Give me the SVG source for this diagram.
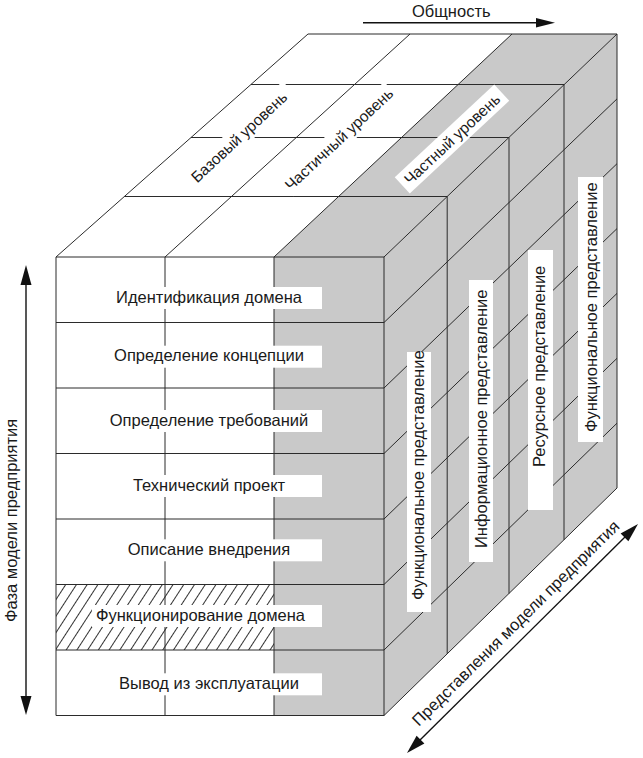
<svg xmlns="http://www.w3.org/2000/svg" width="643" height="758" viewBox="0 0 643 758">
<defs>
<style>
.ln{stroke:#2b2b2b;stroke-width:1;fill:none}
.t{font-family:"Liberation Sans",Arial,sans-serif;font-size:16.5px;fill:#1a1a1a}
.tt{font-family:"Liberation Sans",Arial,sans-serif;font-size:15.5px;fill:#1a1a1a;text-anchor:middle}
.tc{text-anchor:middle}
.bx{fill:#fff}
.g{fill:#c9c9c9}
.ar{fill:#111}
.al{stroke:#111;stroke-width:1.4;fill:none}
</style>
<pattern id="hatch" width="9" height="10" patternUnits="userSpaceOnUse" patternTransform="rotate(33)"><line x1="4.5" y1="0" x2="4.5" y2="10" stroke="#333" stroke-width="1"/></pattern>
</defs>
<rect width="643" height="758" fill="#fff"/>

<g id="cube">
  <polygon points="56,257 308,34 512,34 274,257" fill="#fff"/>
  <polygon class="g" points="274,257 512,34 617,34 384,257"/>
  <polygon class="g" points="384,257 617,34 617,488 384,715.5"/>
  <rect x="56" y="257" width="218" height="458.5" fill="#fff"/>
  <rect class="g" x="274" y="257" width="110" height="458.5"/>
  <rect x="56" y="584.5" width="218" height="65.5" fill="url(#hatch)"/>
  <!-- top face grid -->
  <path class="ln" d="M308,34H617 M251,84.5H564.2 M191,137.5H508.9 M124.4,196.5H447.2 M56,257H384
    M56,257L308,34 M165,257L410,34 M274,257L512,34 M384,257L617,34"/>
  <!-- front face grid -->
  <path class="ln" d="M56,322.5H384 M56,388H384 M56,453.5H384 M56,519H384 M56,584.5H384 M56,650H384 M56,715.5H384
    M56,257V715.5 M165,257V715.5 M274,257V715.5 M384,257V715.5"/>
  <!-- right face grid -->
  <path class="ln" d="M384,322.5L617,98.9 M384,388L617,163.7 M384,453.5L617,228.6 M384,519L617,293.4 M384,584.5L617,358.3 M384,650L617,423.2 M384,715.5L617,488
    M447.2,196.5V653.8 M509,137.4V593.5 M564,84.7V539.8 M617,34V488"/>
</g>

<g id="phase-1"><rect class="bx" x="92" y="287" width="230" height="22"/><text class="t tc" x="209" y="302.5">Идентификация домена</text></g>
<g id="phase-2"><rect class="bx" x="92" y="345.7" width="230" height="22"/><text class="t tc" x="209" y="361.2">Определение концепции</text></g>
<g id="phase-3"><rect class="bx" x="92" y="410" width="230" height="22"/><text class="t tc" x="209" y="425.5">Определение требований</text></g>
<g id="phase-4"><rect class="bx" x="92" y="475" width="230" height="22"/><text class="t tc" x="209" y="490.5">Технический проект</text></g>
<g id="phase-5"><rect class="bx" x="92" y="539.3" width="230" height="22"/><text class="t tc" x="209" y="554.8">Описание внедрения</text></g>
<g id="phase-6"><rect class="bx" x="92" y="605" width="230" height="22"/><text class="t tc" x="200.5" y="620.5">Функционирование домена</text></g>
<g id="phase-7"><rect class="bx" x="92" y="673.3" width="230" height="22"/><text class="t tc" x="209" y="688.8">Вывод из эксплуатации</text></g>

<g id="level-base" transform="translate(239,137) rotate(-43)"><rect class="bx" x="-70" y="-11" width="140" height="22"/><text class="tt" x="0" y="5.5">Базовый уровень</text></g>
<g id="level-partial" transform="translate(339,139) rotate(-43)"><rect class="bx" x="-72" y="-11" width="144" height="22"/><text class="tt" x="0" y="5.5">Частичный уровень</text></g>
<g id="level-particular" transform="translate(452,139) rotate(-43)"><rect class="bx" x="-68" y="-11" width="136" height="22"/><text class="tt" x="0" y="5.5">Частный уровень</text></g>

<g id="view-1"><rect class="bx" x="407" y="352" width="24" height="260"/><text class="t" transform="translate(423.5,600) rotate(-90)">Функциональное представление</text></g>
<g id="view-2"><rect class="bx" x="469" y="280" width="24" height="282"/><text class="t" transform="translate(487,548) rotate(-90)">Информационное представление</text></g>
<g id="view-3"><rect class="bx" x="528" y="250" width="25" height="260"/><text class="t" transform="translate(544.5,467) rotate(-90)">Ресурсное представление</text></g>
<g id="view-4"><rect class="bx" x="578" y="177" width="25" height="265"/><text class="t" transform="translate(596.5,432) rotate(-90)">Функциональное представление</text></g>

<g id="connectors">
  <line class="al" x1="363" y1="22.7" x2="540" y2="22.7"/>
  <polygon class="ar" points="555,22.7 536,18 536,27.5"/>
  <line class="al" x1="26" y1="280" x2="26" y2="700"/>
  <polygon class="ar" points="26,265 20.5,285 31.5,285"/>
  <polygon class="ar" points="26,715 20.5,696 31.5,696"/>
  <line class="al" x1="418" y1="742" x2="627" y2="535"/>
  <polygon class="ar" points="638,524 628.4,541.3 620.6,533.5"/>
  <polygon class="ar" points="407,753 424.4,743.5 416.6,735.7"/>
</g>

<g id="axis-labels">
  <text class="t" x="412" y="17">Общность</text>
  <text class="t" transform="translate(16.5,622) rotate(-90)">Фаза модели предприятия</text>
  <text class="t tc" transform="translate(515.8,623.3) rotate(-44.7)" y="5.5">Представления модели предприятия</text>
</g>
</svg>
